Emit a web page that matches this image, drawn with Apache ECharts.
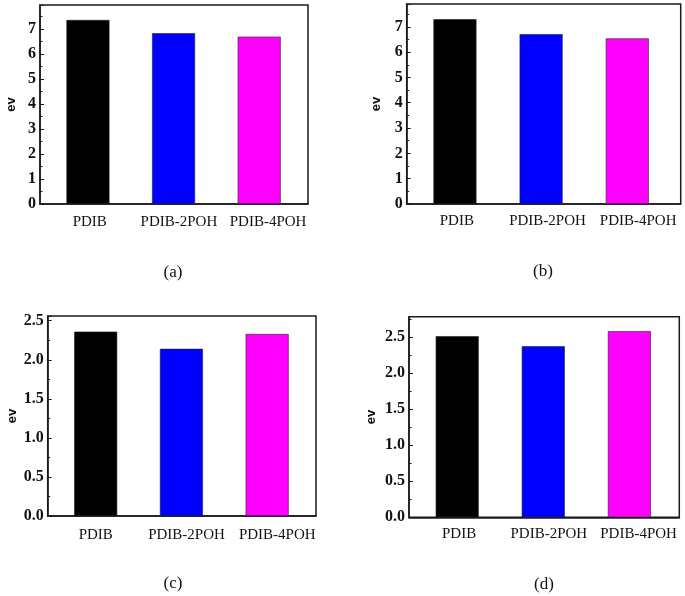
<!DOCTYPE html>
<html>
<head>
<meta charset="utf-8">
<script src="https://cdn.jsdelivr.net/npm/echarts@6/dist/echarts.min.js"></script>
<style>
html,body{margin:0;padding:0;background:#fff;}
#chart{width:685px;height:596px;}
</style>
</head>
<body>
<div id="chart"></div>
<script>
// ---- data ----
const categories = ['PDIB', 'PDIB-2POH', 'PDIB-4POH'];
const valuesA = [7.37, 6.84, 6.70];
const valuesB = [7.30, 6.71, 6.54];
const valuesC = [2.36, 2.14, 2.33];
const valuesD = [2.51, 2.37, 2.58];
const barColors = ['#000000', '#0000ff', '#ff00ff'];
const captions = ['(a)', '(b)', '(c)', '(d)'];
const yAxisName = 'ev';

// ---- layout ----
const panels = [
  {values: valuesA, grid: {left: 40, top: 5, width: 268, height: 199}, yMax: 7.97, yInt: 1, dec: 0,
   xRange: [-0.56, 2.57], labRange: [-0.558, 2.448], nameGap: 22, labMargin: 11, cap: [173, 273]},
  {values: valuesB, grid: {left: 406.7, top: 4, width: 274, height: 200}, yMax: 7.9, yInt: 1, dec: 0,
   xRange: [-0.56, 2.62], labRange: [-0.553, 2.469], nameGap: 24, labMargin: 10, cap: [543, 272]},
  {values: valuesC, grid: {left: 47.7, top: 316, width: 268.3, height: 200}, yMax: 2.56, yInt: 0.5, dec: 1,
   xRange: [-0.56, 2.57], labRange: [-0.529, 2.427], nameGap: 29, labMargin: 12, cap: [173, 584]},
  {values: valuesD, grid: {left: 409, top: 316.7, width: 270.3, height: 200.6}, yMax: 2.78, yInt: 0.5, dec: 1,
   xRange: [-0.56, 2.58], labRange: [-0.558, 2.454], nameGap: 31, labMargin: 9, cap: [544, 585]}
];

const serif = '"Liberation Serif", "Times New Roman", serif';
const sans = '"Liberation Sans", Arial, sans-serif';

const option = {
  backgroundColor: '#ffffff',
  animation: false,
  grid: [], xAxis: [], yAxis: [], series: [],
  graphic: []
};

const catFormatter = v => {
  const r = Math.round(v);
  return (Math.abs(v - r) < 1e-6 && r >= 0 && r < categories.length) ? categories[r] : '';
};

panels.forEach((p, i) => {
  option.grid.push(Object.assign({show: true, borderColor: '#1a1a1a', borderWidth: 1.5, backgroundColor: 'transparent'}, p.grid));
  // axis carrying the bars
  option.xAxis.push({
    type: 'value', gridIndex: i, position: 'bottom', min: p.xRange[0], max: p.xRange[1],
    axisLine: {show: true, onZero: false, lineStyle: {color: '#1a1a1a', width: 1.5}},
    axisTick: {show: false},
    splitLine: {show: false},
    axisLabel: {show: false}
  });
  // axis carrying the category labels
  option.xAxis.push({
    type: 'value', gridIndex: i, position: 'bottom', offset: 0, min: p.labRange[0], max: p.labRange[1],
    axisLine: {show: false, onZero: false},
    axisTick: {show: false},
    splitLine: {show: false},
    axisLabel: {margin: p.labMargin, color: '#111', fontFamily: serif, fontSize: 15, formatter: catFormatter}
  });
  option.yAxis.push({
    type: 'value', gridIndex: i, min: 0, max: p.yMax, interval: p.yInt,
    name: yAxisName, nameLocation: 'middle', nameGap: p.nameGap,
    nameTextStyle: {fontFamily: sans, fontWeight: 'bold', fontSize: 13, color: '#111'},
    axisLine: {show: true, onZero: false, lineStyle: {color: '#1a1a1a', width: 1.5}},
    axisTick: {show: true, inside: true, length: 4, lineStyle: {color: '#1a1a1a', width: 1}},
    minorTick: {show: true, splitNumber: 2, length: 2.5, lineStyle: {color: '#1a1a1a', width: 1}},
    splitLine: {show: false},
    axisLabel: {
      margin: 4, color: '#111', fontFamily: serif, fontWeight: 'bold', fontSize: 16,
      formatter: v => {
        const k = v / p.yInt;
        if (Math.abs(k - Math.round(k)) > 1e-6) return '';
        return v.toFixed(p.dec);
      }
    }
  });
  option.series.push({
    type: 'bar', xAxisIndex: 2 * i, yAxisIndex: i, barWidth: 43,
    data: p.values.map((v, j) => ({value: [j, v], itemStyle: {color: barColors[j], borderColor: '#222', borderWidth: 0.6}}))
  });
  option.graphic.push({
    type: 'text', x: p.cap[0], y: p.cap[1],
    style: {text: captions[i], fontFamily: serif, fontSize: 17, fill: '#111', textAlign: 'center', textVerticalAlign: 'middle'}
  });
});

const chart = echarts.init(document.getElementById('chart'), null, {renderer: 'canvas'});
chart.setOption(option);
</script>
</body>
</html>
